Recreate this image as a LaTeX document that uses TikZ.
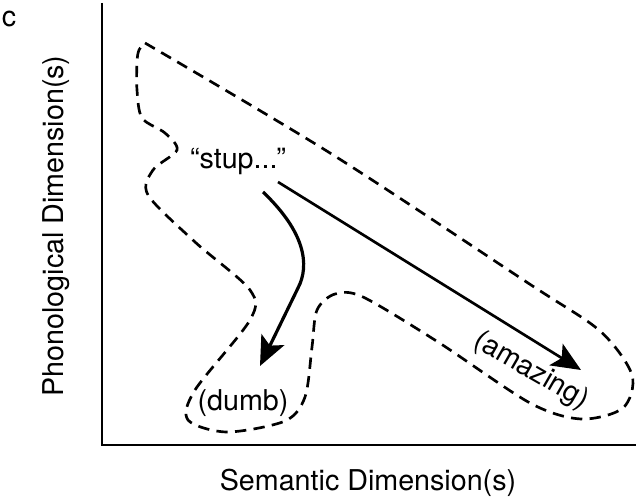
\documentclass[tikz,border=0pt]{standalone}
\usepackage{fontspec}
\setmainfont{TeX Gyre Heros}
\usepackage{tikz}
\usetikzlibrary{positioning}
\usetikzlibrary{arrows.meta}
\usetikzlibrary{calc}

\tikzset{
  lbl/.style={inner sep=0pt,font=\fontsize{21.5}{25}\selectfont},
  axis/.style={line width=1pt},
  region/.style={line width=2pt,dash pattern=on 8.5pt off 5.5pt},
  walk/.style={line width=2pt,-{Stealth[length=22pt,width=19pt,inset=5pt]}}
}

\begin{document}
\begin{tikzpicture}[x=0.75pt,y=-0.75pt]
\useasboundingbox (0,0) rectangle (638,499);
\coordinate (origin) at (102,445);
\coordinate (ytop) at (102,3);
\coordinate (xend) at (636,445);
\node[lbl] (panel) at (9,19) {c};
\node[lbl,rotate=90] (ylab) at (56,226) {Phonological Dimension(s)};
\node[lbl] (xlab) at (368,483) {Semantic Dimension(s)};
\node[lbl] (stup) at (238,161) {“stup...”};
\node[lbl] (dumb) at (243,403) {(dumb)};
\node[lbl,rotate=-30] (amazing) at (531,371) {(amazing)};
\coordinate (s1) at (278,182);
\coordinate (s2) at (263,192);
\coordinate (bend) at (298,288);
\coordinate (t1) at (581,370);
\coordinate (t2) at (260,366);

\draw[axis] (ytop) -- (origin) -- (xend);
\draw[region] plot[smooth,tension=0.5] coordinates {
  (145,43) (330,153) (528,283) (600,331) (632,375) (623,408) (581,419)
  (530,403) (438,342) (363,297) (335,294) (317,310) (312,347) (305,397)
  (285,421) (227,432) (188,420) (195,390) (250,320) (250,290) (195,242)
  (148,195) (153,170) (177,150) (165,133) (142,118) (137,90) (137,62)
  (139,50) (145,43)};
\draw[walk] (s1) -- (t1);
\draw[walk,line width=2.4pt] (s2) .. controls (305,232) and (310,265) .. (bend) -- (t2);
\end{tikzpicture}
\end{document}
